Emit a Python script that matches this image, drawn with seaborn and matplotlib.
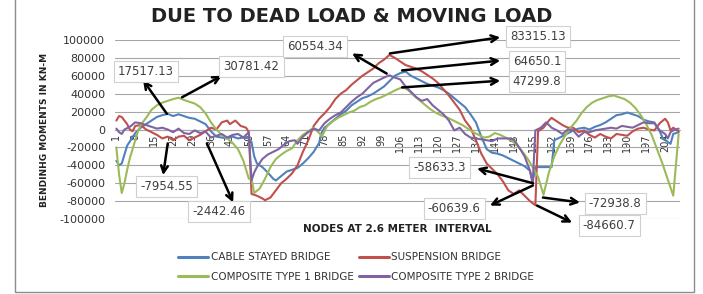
import pandas as pd
import seaborn as sns
import matplotlib.pyplot as plt
from matplotlib.patches import Rectangle

# nodes / bending moments (kN-m)
cable_nodes = [1, 2, 3, 5, 8, 10, 12, 14, 16, 18, 20, 22, 24, 26, 28, 30, 32, 34, 36, 38,
               40, 42, 44, 46, 48, 50, 51, 52, 53, 55, 57, 59, 60, 62, 64, 66, 68, 70, 72, 74,
               76, 77, 78, 80, 82, 84, 86, 88, 90, 92, 94, 96, 98, 100, 102, 104, 106, 108, 110, 112,
               114, 116, 118, 120, 122, 124, 126, 128, 130, 132, 134, 136, 138, 140, 142, 144, 146, 148, 150, 152,
               154, 155, 156, 158, 160, 162, 163, 165, 167, 170, 172, 174, 176, 178, 180, 182, 184, 186, 188, 190,
               192, 194, 196, 198, 200, 202, 203, 205, 206, 207, 209]
cable_vals = [-35000, -40000, -38000, -18000, -4000, 2000, 6000, 10000, 14000, 16000, 17517, 15000, 17000, 15000, 13000, 12000, 9000, 6000, -2000, -8000,
              -9000, -10000, -8000, -10000, -9000, -10000, -14000, -30000, -38000, -42000, -48000, -55000, -57000, -52000, -47000, -45000, -43000, -38000, -32000, -25000,
              -15000, -3000, 2000, 7000, 12000, 17000, 21000, 27000, 31000, 35000, 37000, 40000, 44000, 48000, 54000, 60000, 63000, 64650, 60000, 57000,
              54000, 51000, 49000, 47000, 44000, 40000, 35000, 30000, 25000, 17000, 8000, -8000, -22000, -26000, -27000, -29000, -32000, -35000, -38000, -41000,
              -46000, -58633, -42000, -42000, -42000, -42000, -12000, -9000, -6000, -1000, 1000, 2000, 0, 3000, 5000, 8000, 12000, 16000, 17000, 19000,
              17000, 15000, 11000, 9000, 8000, -2000, -9000, -14000, -16000, -5000, -3000]

susp_nodes = [1, 2, 3, 4, 5, 6, 7, 8, 10, 12, 14, 16, 18, 20, 22, 24, 26, 28, 30, 32,
              34, 36, 38, 40, 42, 43, 45, 47, 49, 50, 51, 53, 55, 56, 58, 60, 62, 64, 66, 68,
              70, 72, 74, 76, 78, 80, 82, 84, 86, 88, 90, 92, 94, 96, 98, 100, 102, 104, 106, 108,
              110, 112, 114, 116, 118, 120, 122, 124, 126, 128, 130, 132, 134, 136, 138, 140, 142, 144, 146, 148,
              150, 152, 154, 156, 157, 159, 161, 162, 164, 166, 168, 170, 172, 174, 176, 178, 180, 182, 184, 186,
              188, 190, 192, 194, 196, 198, 200, 202, 204, 205, 206, 207, 209]
susp_vals = [10000, 15000, 14000, 10000, 6000, 0, -2000, 4000, 5000, 0, -3000, -6000, -10000, -7955, -12000, -8000, -7000, -12000, -9000, -6000,
             -2000, 2000, 0, 8000, 10000, 6000, 10000, 4000, 2000, -3000, -72000, -74000, -77000, -79000, -76000, -68000, -60000, -55000, -49000, -40000,
             -25000, -12000, 4000, 12000, 18000, 25000, 34000, 40000, 44000, 50000, 55000, 60000, 64000, 68000, 74000, 78000, 83315, 80000, 76000, 72000,
             70000, 68000, 65000, 61000, 57000, 52000, 45000, 38000, 30000, 22000, 10000, 2000, -12000, -27000, -38000, -44000, -50000, -58000, -68000, -72000,
             -68000, -74000, -80000, -84661, -2000, 2000, 10000, 13000, 9000, 5000, 2000, 2000, -3000, -1000, -6000, -9000, -5000, -8000, -10000, -5000,
             -6000, -7000, -2000, 1000, 2000, 0, -1000, 7000, 12000, 8000, -1000, 2000, -2000]

comp1_nodes = [1, 2, 3, 4, 5, 6, 7, 8, 9, 10, 12, 14, 16, 18, 20, 22, 24, 26, 28, 30,
               32, 34, 36, 38, 40, 42, 44, 46, 48, 49, 50, 51, 52, 54, 56, 58, 60, 62, 64, 66,
               68, 70, 72, 74, 76, 77, 79, 81, 83, 85, 87, 89, 91, 93, 95, 97, 99, 101, 103, 105,
               107, 109, 111, 113, 115, 117, 119, 121, 123, 125, 127, 129, 131, 133, 135, 137, 139, 141, 143, 145,
               147, 149, 151, 153, 155, 157, 159, 161, 163, 165, 167, 169, 171, 173, 175, 177, 179, 181, 183, 185,
               187, 189, 191, 193, 195, 197, 199, 201, 203, 205, 207, 209]
comp1_vals = [-20000, -50000, -71000, -60000, -45000, -32000, -22000, -12000, -2000, 5000, 13000, 22000, 27000, 30000, 32000, 34000, 35500, 33000, 31000, 29000,
              25000, 18000, 8000, 0, -6000, -10000, -15000, -22000, -35000, -45000, -55000, -55000, -71000, -66000, -55000, -42000, -33000, -28000, -24000, -21000,
              -12000, -6000, -2000, 2000, -4000, -8000, 4000, 9000, 13000, 16000, 19000, 21000, 25000, 27000, 31000, 34000, 36000, 39000, 42000, 45000,
              47300, 44000, 38000, 33000, 28000, 23000, 19000, 16000, 14000, 11000, 8000, 5000, 1000, -3000, -6000, -9000, -8000, -4000, -6000, -9000,
              -12000, -17000, -24000, -32000, -42000, -53000, -72939, -48000, -30000, -17000, -7000, 2000, 9000, 18000, 25000, 30000, 33000, 35000, 37000, 38000,
              36000, 34000, 30000, 24000, 16000, 6000, -6000, -22000, -38000, -56000, -74000, -5000]

comp2_nodes = [1, 2, 3, 4, 6, 8, 10, 12, 14, 16, 18, 20, 22, 24, 26, 28, 30, 32, 34, 36,
               38, 40, 42, 44, 46, 48, 50, 51, 52, 53, 55, 57, 59, 61, 63, 65, 67, 68, 70, 72,
               74, 76, 78, 80, 82, 84, 86, 88, 90, 92, 94, 96, 98, 100, 102, 104, 106, 108, 110, 112,
               114, 116, 118, 120, 122, 124, 126, 128, 130, 132, 134, 136, 138, 140, 142, 144, 146, 148, 150, 152,
               154, 155, 156, 158, 160, 162, 164, 166, 168, 170, 172, 174, 176, 178, 180, 182, 184, 186, 188, 190,
               192, 194, 196, 198, 200, 202, 204, 205, 206, 207, 209]
comp2_vals = [1000, -3000, -5000, 0, 3000, 8000, 7000, 5000, 3000, 1000, 2000, 0, -3000, 1000, -4000, -5000, -1000, -4000, -2442, -9000,
              -7000, -5000, -9000, -6000, -5000, -9000, -3000, -57000, -48000, -42000, -33000, -28000, -25000, -22000, -17000, -13000, -12000, -16000, -8000, -3000,
              1000, -1000, 7000, 12000, 16000, 19000, 25000, 31000, 36000, 40000, 46000, 52000, 55000, 58000, 60554, 58000, 56000, 48000, 42000, 36000,
              32000, 34000, 27000, 22000, 17000, 10000, -1000, 2000, -5000, -9000, -10000, -11000, -12000, -13000, -10000, -10000, -10000, -11000, -20000, -30000,
              -46000, -60640, -1000, 2000, 8000, 2000, -1000, -5000, 0, -1000, -8000, -3000, -3000, -1000, 0, 1000, 2000, 1000, 4000, 3000,
              2000, 5000, 8000, 7000, 7000, -1000, -5000, -10000, -3000, -1000, 1000]

series_names = ['CABLE STAYED BRIDGE', 'SUSPENSION BRIDGE',
                'COMPOSITE TYPE 1 BRIDGE', 'COMPOSITE TYPE 2 BRIDGE']
colors = ['#4F81BD', '#C0504D', '#9BBB59', '#8064A2']

x_ticks = list(range(1, 205, 7))
y_ticks = list(range(-100000, 100001, 20000))

# annotation labels: text, text position, arrow tail (on curve), arrow head
annotations = [
    ('17517.13', (12, 65000), (19.7, 17500), (10.9, 55000)),
    ('30781.42', (51, 70500), (25.3, 36000), (40, 60000)),
    ('-7954.55', (19.7, -64000), (20, -15600), (18.3, -51000)),
    ('-2442.46', (39, -91500), (34.5, -15600), (44.2, -81500)),
    ('60554.34', (74.5, 92500), (101, 62500), (88.2, 85000)),
    ('83315.13', (157, 104000), (102.2, 85000), (143, 103000)),
    ('64650.1', (156.6, 76000), (106.7, 66000), (143, 77000)),
    ('47299.8', (156.6, 53500), (106.7, 47000), (143, 54500)),
    ('-58633.3', (120.4, -42500), (155.1, -60000), (134.4, -43500)),
    ('-60639.6', (126, -88000), (155.1, -62500), (139.2, -85000)),
    ('-72938.8', (185.5, -82700), (158.8, -76000), (172.5, -81500)),
    ('-84660.7', (183.3, -107000), (156.6, -85000), (169.6, -104000)),
]

frames = []
for name, nodes, vals in zip(series_names,
                             [cable_nodes, susp_nodes, comp1_nodes, comp2_nodes],
                             [cable_vals, susp_vals, comp1_vals, comp2_vals]):
    frames.append(pd.DataFrame({'Node': nodes, 'Moment': vals, 'Bridge': name}))
df = pd.concat(frames, ignore_index=True)

sns.set_style('white')
fig = plt.figure(figsize=(7.03, 2.94), dpi=100)
ax = fig.add_axes([115 / 703, 1 - 219 / 294, 565 / 703, 179 / 294])

sns.lineplot(data=df, x='Node', y='Moment', hue='Bridge', hue_order=series_names,
             palette=dict(zip(series_names, colors)), estimator=None, sort=True,
             linewidth=1.5, ax=ax, legend=False, zorder=3)

ax.set_xlim(0.5, 209.5)
ax.set_ylim(-100000, 100000)
ax.set_yticks(y_ticks)
ax.set_yticklabels([str(v) for v in y_ticks])
ax.set_xticks(x_ticks)
ax.set_xticklabels([str(v) for v in x_ticks])
ax.tick_params(axis='y', length=0, pad=7, labelsize=8, labelcolor='#333333')
ax.tick_params(axis='x', length=2, pad=1, color='#999999', labelsize=7,
               labelcolor='#333333', labelrotation=90)
ax.yaxis.grid(True, color='#a6a6a6', linewidth=0.8)
ax.set_axisbelow(True)
for side in ['left', 'right', 'top']:
    ax.spines[side].set_visible(False)
ax.spines['bottom'].set_position(('data', 0))
ax.spines['bottom'].set_color('#a6a6a6')
ax.spines['bottom'].set_linewidth(0.8)
ax.set_xlabel('')
ax.set_ylabel('')

for label, txt_pos, tail, head in annotations:
    ax.annotate('', xy=head, xytext=tail, annotation_clip=False, zorder=6,
                arrowprops=dict(arrowstyle='->', color='black', lw=1.8,
                                shrinkA=0, shrinkB=0, mutation_scale=12))
    ax.text(txt_pos[0], txt_pos[1], label, ha='center', va='center', fontsize=8.5,
            color='#404040', zorder=7, clip_on=False,
            bbox=dict(boxstyle='square,pad=0.35', fc='white', ec='#d0d0d0', lw=0.8))

fig.text(352 / 703, 1 - 16 / 294, 'DUE TO DEAD LOAD & MOVING LOAD', ha='center', va='center',
         fontsize=14, fontweight='bold', color='#222222')
fig.text(45 / 703, 1 - 130 / 294, 'BENDINHG MOMENTS IN KN-M', rotation=90, ha='center',
         va='center', fontsize=6.5, fontweight='bold', color='#222222')
fig.text(397 / 703, 1 - 229 / 294, 'NODES AT 2.6 METER  INTERVAL', ha='center', va='center',
         fontsize=7.5, fontweight='bold', color='#222222')

handles = [plt.Line2D([], [], color=c, lw=2.2) for c in colors]
order = [0, 2, 1, 3]
fig.legend([handles[i] for i in order], [series_names[i] for i in order], ncol=2,
           loc='center', bbox_to_anchor=(356 / 703, 1 - 267 / 294), frameon=False,
           fontsize=7.5, handlelength=2.9, handletextpad=0.25, columnspacing=0.5,
           labelspacing=0.9, labelcolor='#333333')

fig.patches.append(Rectangle((15 / 703, 2 / 294), 679 / 703, 1.0, transform=fig.transFigure,
                             fill=False, ec='#8c8c8c', lw=1.0))

fig.savefig('out.png', dpi=100)
